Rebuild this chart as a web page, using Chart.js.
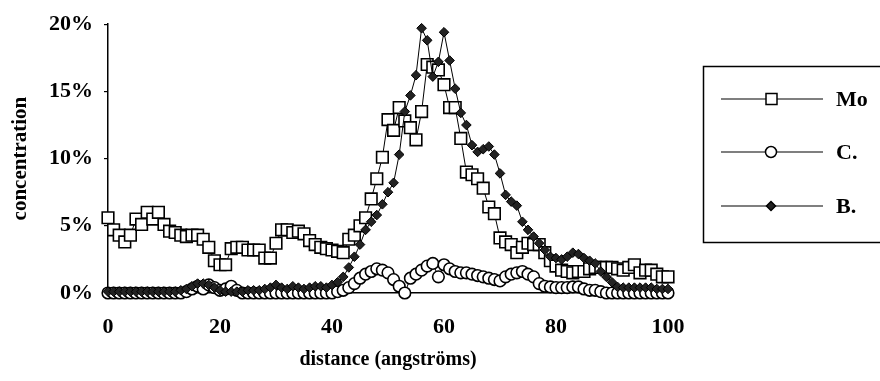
<!DOCTYPE html>
<html>
<head>
<meta charset="utf-8">
<script src="https://cdn.jsdelivr.net/npm/chart.js@4"></script>
<style>
  html, body { margin: 0; padding: 0; background: #fff; }
  #wrap { width: 880px; height: 381px; position: relative; }
</style>
</head>
<body>
<div id="wrap"><canvas id="profile"></canvas></div>
<script>
// distance in angstroms, one reading per step
const distance = [
  0, 1, 2, 3, 4, 5, 6, 7, 8, 9,
  10, 11, 12, 13, 14, 15, 16, 17, 18, 19,
  20, 21, 22, 23, 24, 25, 26, 27, 28, 29,
  30, 31, 32, 33, 34, 35, 36, 37, 38, 39,
  40, 41, 42, 43, 44, 45, 46, 47, 48, 49,
  50, 51, 52, 53, 54, 55, 56, 57, 58, 59,
  60, 61, 62, 63, 64, 65, 66, 67, 68, 69,
  70, 71, 72, 73, 74, 75, 76, 77, 78, 79,
  80, 81, 82, 83, 84, 85, 86, 87, 88, 89,
  90, 91, 92, 93, 94, 95, 96, 97, 98, 99, 100
];

// concentration in %
const mo = [
  5.6, 4.7, 4.3, 3.8, 4.3, 5.5, 5.1, 6.0, 5.5, 6.0,
  5.1, 4.6, 4.5, 4.3, 4.2, 4.3, 4.3, 4.0, 3.4, 2.4,
  2.1, 2.1, 3.3, 3.4, 3.4, 3.2, 3.2, 3.2, 2.6, 2.6,
  3.7, 4.7, 4.7, 4.5, 4.6, 4.4, 3.9, 3.6, 3.4, 3.3,
  3.2, 3.1, 3.0, 4.0, 4.3, 5.0, 5.6, 7.0, 8.5, 10.1,
  12.9, 12.1, 13.8, 12.8, 12.3, 11.4, 13.5, 17.0, 16.8, 16.6,
  15.5, 13.8, 13.8, 11.5, 9.0, 8.8, 8.5, 7.8, 6.4, 5.9,
  4.1, 3.8, 3.6, 3.0, 3.4, 3.7, 3.6, 3.6, 3.0, 2.4,
  2.0, 1.7, 1.6, 1.5, 1.6, 1.6, 1.8, 1.9, 1.9, 1.9,
  1.9, 1.8, 1.7, 1.9, 2.1, 1.5, 1.7, 1.7, 1.4, 1.2, 1.2
];

const carbon = [
  0, 0, 0, 0, 0, 0, 0, 0, 0, 0,
  0, 0, 0, 0, 0.1, 0.3, 0.5, 0.3, 0.6, 0.4,
  0.2, 0.3, 0.5, 0.2, 0, 0, 0, 0, 0, 0,
  0, 0, 0, 0, 0, 0, 0, 0, 0, 0,
  0, 0.1, 0.2, 0.4, 0.7, 1.1, 1.4, 1.6, 1.8, 1.7,
  1.5, 1.0, 0.5, 0.0, 1.1, 1.4, 1.7, 2.0, 2.2, 1.2,
  2.1, 1.8, 1.6, 1.5, 1.5, 1.4, 1.3, 1.2, 1.1, 1.0,
  0.9, 1.2, 1.4, 1.5, 1.6, 1.4, 1.2, 0.7, 0.5, 0.45,
  0.4, 0.4, 0.4, 0.45, 0.45, 0.3, 0.2, 0.2, 0.1, 0,
  0, 0, 0, 0, 0, 0, 0, 0, 0, 0, 0
];

const boron = [
  0.1, 0.1, 0.1, 0.1, 0.1, 0.1, 0.1, 0.1, 0.1, 0.1,
  0.1, 0.1, 0.1, 0.2, 0.3, 0.5, 0.7, 0.7, 0.6, 0.4,
  0.2, 0.1, 0.1, 0.1, 0.1, 0.2, 0.2, 0.2, 0.3, 0.4,
  0.6, 0.4, 0.3, 0.5, 0.4, 0.3, 0.4, 0.5, 0.5, 0.4,
  0.6, 0.8, 1.2, 1.9, 2.7, 3.6, 4.7, 5.3, 5.8, 6.6,
  7.5, 8.2, 10.3, 13.5, 14.7, 16.2, 19.7, 18.8, 16.1, 17.2,
  19.4, 17.3, 15.2, 13.4, 12.5, 11.0, 10.5, 10.7, 10.9, 10.3,
  8.9, 7.3, 6.8, 6.5, 5.3, 4.7, 4.2, 3.7, 3.2, 2.7,
  2.6, 2.5, 2.7, 3.0, 2.9, 2.6, 2.4, 2.2, 1.6, 1.2,
  0.8, 0.45, 0.4, 0.4, 0.4, 0.4, 0.4, 0.4, 0.3, 0.3, 0.3
];

const seriesNames = ['Mo', 'C.', 'B.'];

const serif = '"Liberation Serif", "Times New Roman", serif';

function points(values) {
  return values.map((v, i) => ({ x: distance[i], y: v }));
}

// boxed legend with a line + marker sample, partly running off the right edge
const legendBox = {
  id: 'legendBox',
  afterDraw(chart) {
    const c = chart.ctx;
    const rows = [99, 152, 206];
    c.save();
    c.strokeStyle = '#000';
    c.lineWidth = 1.5;
    c.strokeRect(703.5, 66.5, 200, 176);
    chart.data.datasets.forEach((ds, i) => {
      const y = rows[i];
      c.lineWidth = 1.2;
      c.beginPath();
      c.moveTo(721, y);
      c.lineTo(823, y);
      c.stroke();
      c.lineWidth = 1.5;
      c.fillStyle = ds.pointBackgroundColor;
      c.beginPath();
      if (ds.pointStyle === 'rect') {
        c.rect(766, y - 5.5, 11, 11);
      } else if (ds.pointStyle === 'circle') {
        c.arc(771, y, 5.5, 0, Math.PI * 2);
      } else {
        c.moveTo(771, y - 4.5);
        c.lineTo(775.5, y);
        c.lineTo(771, y + 4.5);
        c.lineTo(766.5, y);
        c.closePath();
      }
      c.fill();
      c.stroke();
      c.fillStyle = '#000';
      c.font = 'bold 22px ' + serif;
      c.textBaseline = 'middle';
      c.fillText(ds.label, 836, y + 1);
    });
    c.restore();
  }
};

const ctx = document.getElementById('profile');

new Chart(ctx, {
  type: 'line',
  data: {
    datasets: [
      {
        label: seriesNames[0],
        data: points(mo),
        borderColor: '#000',
        borderWidth: 1,
        pointStyle: 'rect',
        pointRadius: 8.2,
        pointBorderWidth: 1.6,
        pointBackgroundColor: '#fff',
        pointBorderColor: '#000',
        clip: false,
        order: 1
      },
      {
        label: seriesNames[1],
        data: points(carbon),
        borderColor: '#000',
        borderWidth: 1,
        pointStyle: 'circle',
        pointRadius: 5.8,
        pointBorderWidth: 1.6,
        pointBackgroundColor: '#fff',
        pointBorderColor: '#000',
        clip: false,
        order: 2
      },
      {
        label: seriesNames[2],
        data: points(boron),
        borderColor: '#000',
        borderWidth: 1,
        pointStyle: 'rectRot',
        pointRadius: 4.8,
        pointBorderWidth: 1,
        pointBackgroundColor: '#222',
        pointBorderColor: '#000',
        clip: false,
        order: 0
      }
    ]
  },
  options: {
    responsive: true,
    maintainAspectRatio: false,
    animation: false,
    layout: { padding: { top: 24, right: 212, left: 0, bottom: 0 } },
    plugins: {
      legend: { display: false },
      tooltip: { enabled: false }
    },
    scales: {
      x: {
        type: 'linear',
        min: 0,
        max: 100,
        grid: { display: false, drawTicks: false },
        border: { display: true, color: '#000', width: 1.5 },
        ticks: {
          stepSize: 20,
          color: '#000',
          padding: 21,
          maxRotation: 0,
          font: { family: serif, size: 22, weight: 'bold' }
        },
        title: {
          display: true,
          text: 'distance (angströms)',
          color: '#000',
          font: { family: serif, size: 20, weight: 'bold' },
          padding: { top: 0, bottom: 9 }
        },
        afterFit(scale) { scale.height = 88; }
      },
      y: {
        min: 0,
        max: 20,
        grid: {
          display: true,
          drawOnChartArea: false,
          drawTicks: true,
          tickLength: 4,
          color: '#000',
          lineWidth: 1.2
        },
        border: { display: true, color: '#000', width: 1.5 },
        ticks: {
          stepSize: 5,
          color: '#000',
          padding: 11,
          font: { family: serif, size: 22, weight: 'bold' },
          callback: (v) => v + '%'
        },
        title: {
          display: true,
          text: 'concentration',
          color: '#000',
          font: { family: serif, size: 21, weight: 'bold' },
          padding: { top: 8, bottom: 0 }
        },
        afterFit(scale) { scale.width = 108; }
      }
    }
  },
  plugins: [legendBox]
});
</script>
</body>
</html>
